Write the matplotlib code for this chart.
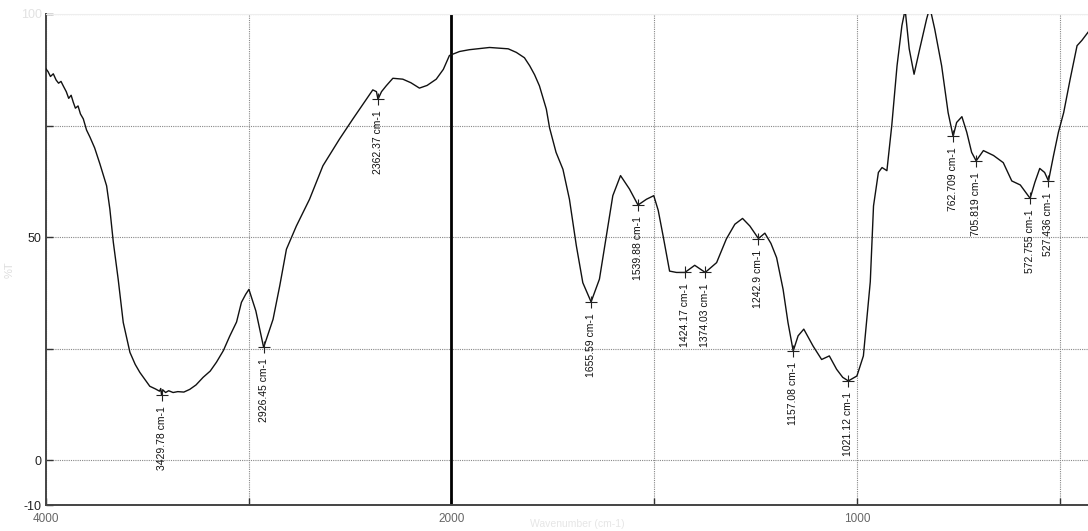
import numpy as np
import matplotlib
matplotlib.use("Agg")
import matplotlib.pyplot as plt

plt.rcParams['font.family'] = ['Liberation Sans', 'DejaVu Sans']

# FTIR spectrum, transmittance (%T) against wavenumber (cm-1)
wavenumber = [4000, 3990, 3978, 3964, 3950, 3938, 3926, 3915, 3900, 3888, 3876, 3866,
              3855, 3842, 3830, 3816, 3800, 3783, 3760, 3734, 3701, 3685, 3668, 3644,
              3619, 3586, 3560, 3537, 3510, 3488, 3460, 3440, 3434, 3429.78, 3424, 3410,
              3395, 3373, 3350, 3320, 3291, 3260, 3225, 3190, 3159, 3125, 3094, 3060,
              3036, 3015, 2999, 2965, 2926.45, 2880, 2847, 2814, 2765, 2700, 2634, 2552,
              2486, 2420, 2388, 2370, 2362.37, 2345, 2322, 2289, 2240, 2200, 2158, 2120,
              2075, 2040, 2010, 1980, 1956, 1906, 1860, 1840, 1820, 1807, 1795, 1783,
              1766, 1758, 1742, 1725, 1709, 1692, 1676, 1655.59, 1635, 1618, 1602, 1583,
              1561, 1539.88, 1519, 1501, 1490, 1478, 1462, 1445, 1424.17, 1400, 1374.03,
              1346, 1322, 1301, 1282, 1264, 1242.9, 1227, 1212, 1198, 1182, 1170,
              1157.08, 1145, 1131, 1108, 1087, 1068, 1050, 1035, 1021.12, 1000, 984,
              967, 959, 947, 938, 926, 914, 901, 889, 881, 871, 859, 845, 828, 820, 808,
              791, 775, 762.709, 754, 741, 729, 717, 705.819, 688, 663, 639, 618, 597,
              572.755, 561, 549, 537, 527.436, 515, 503, 490, 474, 457, 445, 430]
transmittance = [87.7, 87.1, 86.0, 86.6, 85.2, 84.5, 84.9, 83.9, 82.6, 81.1, 81.8, 80.3,
                 78.9, 79.4, 77.6, 76.5, 74.0, 72.4, 70.0, 66.4, 61.5, 56.3, 48.9, 40.6,
                 30.9, 24.2, 21.5, 19.7, 18.0, 16.6, 16.0, 15.5, 16.1, 14.6, 15.8, 15.2,
                 15.6, 15.2, 15.4, 15.3, 15.9, 16.9, 18.6, 20.0, 22.0, 24.6, 27.8, 31.0,
                 35.4, 37.2, 38.3, 33.5, 25.3, 31.6, 39.1, 47.3, 52.5, 58.5, 66.0, 72.0,
                 76.5, 80.9, 83.0, 82.6, 80.9, 82.6, 83.9, 85.6, 85.4, 84.6, 83.4, 84.0,
                 85.4, 87.6, 90.7, 91.6, 92.0, 92.5, 92.2, 91.4, 90.2, 88.4, 86.4, 83.9,
                 78.7, 74.5, 69.0, 65.2, 58.5, 48.1, 39.8, 35.5, 40.6, 50.3, 59.3, 63.8,
                 60.8, 57.2, 58.5, 59.3, 56.0, 50.3, 42.4, 42.1, 42.1, 43.7, 42.1,
                 44.3, 49.6, 52.9, 54.2, 52.5, 49.7, 50.9, 48.6, 45.4, 38.3, 30.9,
                 24.5, 27.9, 29.4, 25.6, 22.6, 23.4, 20.4, 18.6, 17.8, 18.9, 23.4,
                 40.0, 57.0, 64.5, 65.6, 64.9, 75.0, 88.4, 97.4, 101.0, 92.2, 86.5, 92.2,
                 98.9, 101.5, 96.6, 88.4, 77.9, 72.6, 75.7, 77.0, 73.5, 69.0, 67.1, 69.4,
                 68.3, 66.7, 62.6, 61.7, 58.7, 62.3, 65.4, 64.5, 62.6, 68.3, 73.5, 77.9,
                 85.4, 92.9, 94.1, 95.9]

# picked peaks
peak_wn = [3429.78, 2926.45, 2362.37, 1655.59, 1539.88, 1424.17, 1374.03, 1242.9,
           1157.08, 1021.12, 762.709, 705.819, 572.755, 527.436]
peak_t = [14.6, 25.3, 80.9, 35.5, 57.2, 42.1, 42.1, 49.7, 24.5, 17.8, 72.6, 67.1,
          58.7, 62.6]
peak_labels = ["3429.78 cm-1", "2926.45 cm-1", "2362.37 cm-1", "1655.59 cm-1",
               "1539.88 cm-1", "1424.17 cm-1", "1374.03 cm-1", "1242.9 cm-1",
               "1157.08 cm-1", "1021.12 cm-1", "762.709 cm-1", "705.819 cm-1",
               "572.755 cm-1", "527.436 cm-1"]


# axis is compressed 2x above 2000 cm-1
def fwd(w):
    w = np.asarray(w, dtype=float)
    return np.where(w >= 2000, (w - 2000) / 2.0, w - 2000)


def inv(u):
    u = np.asarray(u, dtype=float)
    return np.where(u >= 0, 2 * u + 2000, u + 2000)


fig = plt.figure(figsize=(10.88, 5.31), dpi=100)
ax = fig.add_axes([46 / 1088, 26 / 531, 1 - 46 / 1088, 491 / 531])
ax.set_xscale('function', functions=(fwd, inv))
ax.set_xlim(4000, 430)
ax.set_ylim(-10, 100)

ax.plot(wavenumber, transmittance, color='#111111', lw=1.0, zorder=3)
ax.axvline(2000, color='black', lw=2.0, zorder=2)

for w, t, lab in zip(peak_wn, peak_t, peak_labels):
    ax.plot(w, t, marker='+', markersize=9, mew=0.8, color='#222222', zorder=4)
    ax.annotate(lab, (w, t), xytext=(0, -8), textcoords='offset points',
                rotation=90, ha='center', va='top', fontsize=7.5, color='#111111')

ax.set_xticks([4000, 3000, 2000, 1500, 1000, 500])
ax.set_xticklabels(['4000', '', '2000', '', '1000', ''])
ax.set_yticks([-10, 0, 25, 50, 75, 100])
ax.set_yticklabels(['-10', '0', '', '50', '', '100'])
ax.tick_params(axis='x', direction='in', length=5, width=1, color='#333333',
               labelsize=8.5, labelcolor='#666666', pad=6)
ax.tick_params(axis='y', direction='in', length=5, width=1, color='#333333',
               labelsize=9, labelcolor='#222222', pad=3)
ax.get_yticklabels()[-1].set_color('#e2e2e2')

ax.grid(True, color='#888888', lw=0.8, linestyle=(0, (1, 1)))

for side in ['left', 'bottom']:
    ax.spines[side].set_color('#444444')
    ax.spines[side].set_linewidth(1.4)
ax.spines['top'].set_color('#eeeeee')
ax.spines['right'].set_visible(False)

ax.set_ylabel('%T', color='#dddddd', fontsize=8)
ax.yaxis.set_label_coords(-0.03, 0.48)
ax.set_xlabel('Wavenumber (cm-1)', color='#e6e6e6', fontsize=7.5, va='center')
ax.xaxis.set_label_coords(0.51, -0.039)

fig.savefig('out.png', dpi=100)
